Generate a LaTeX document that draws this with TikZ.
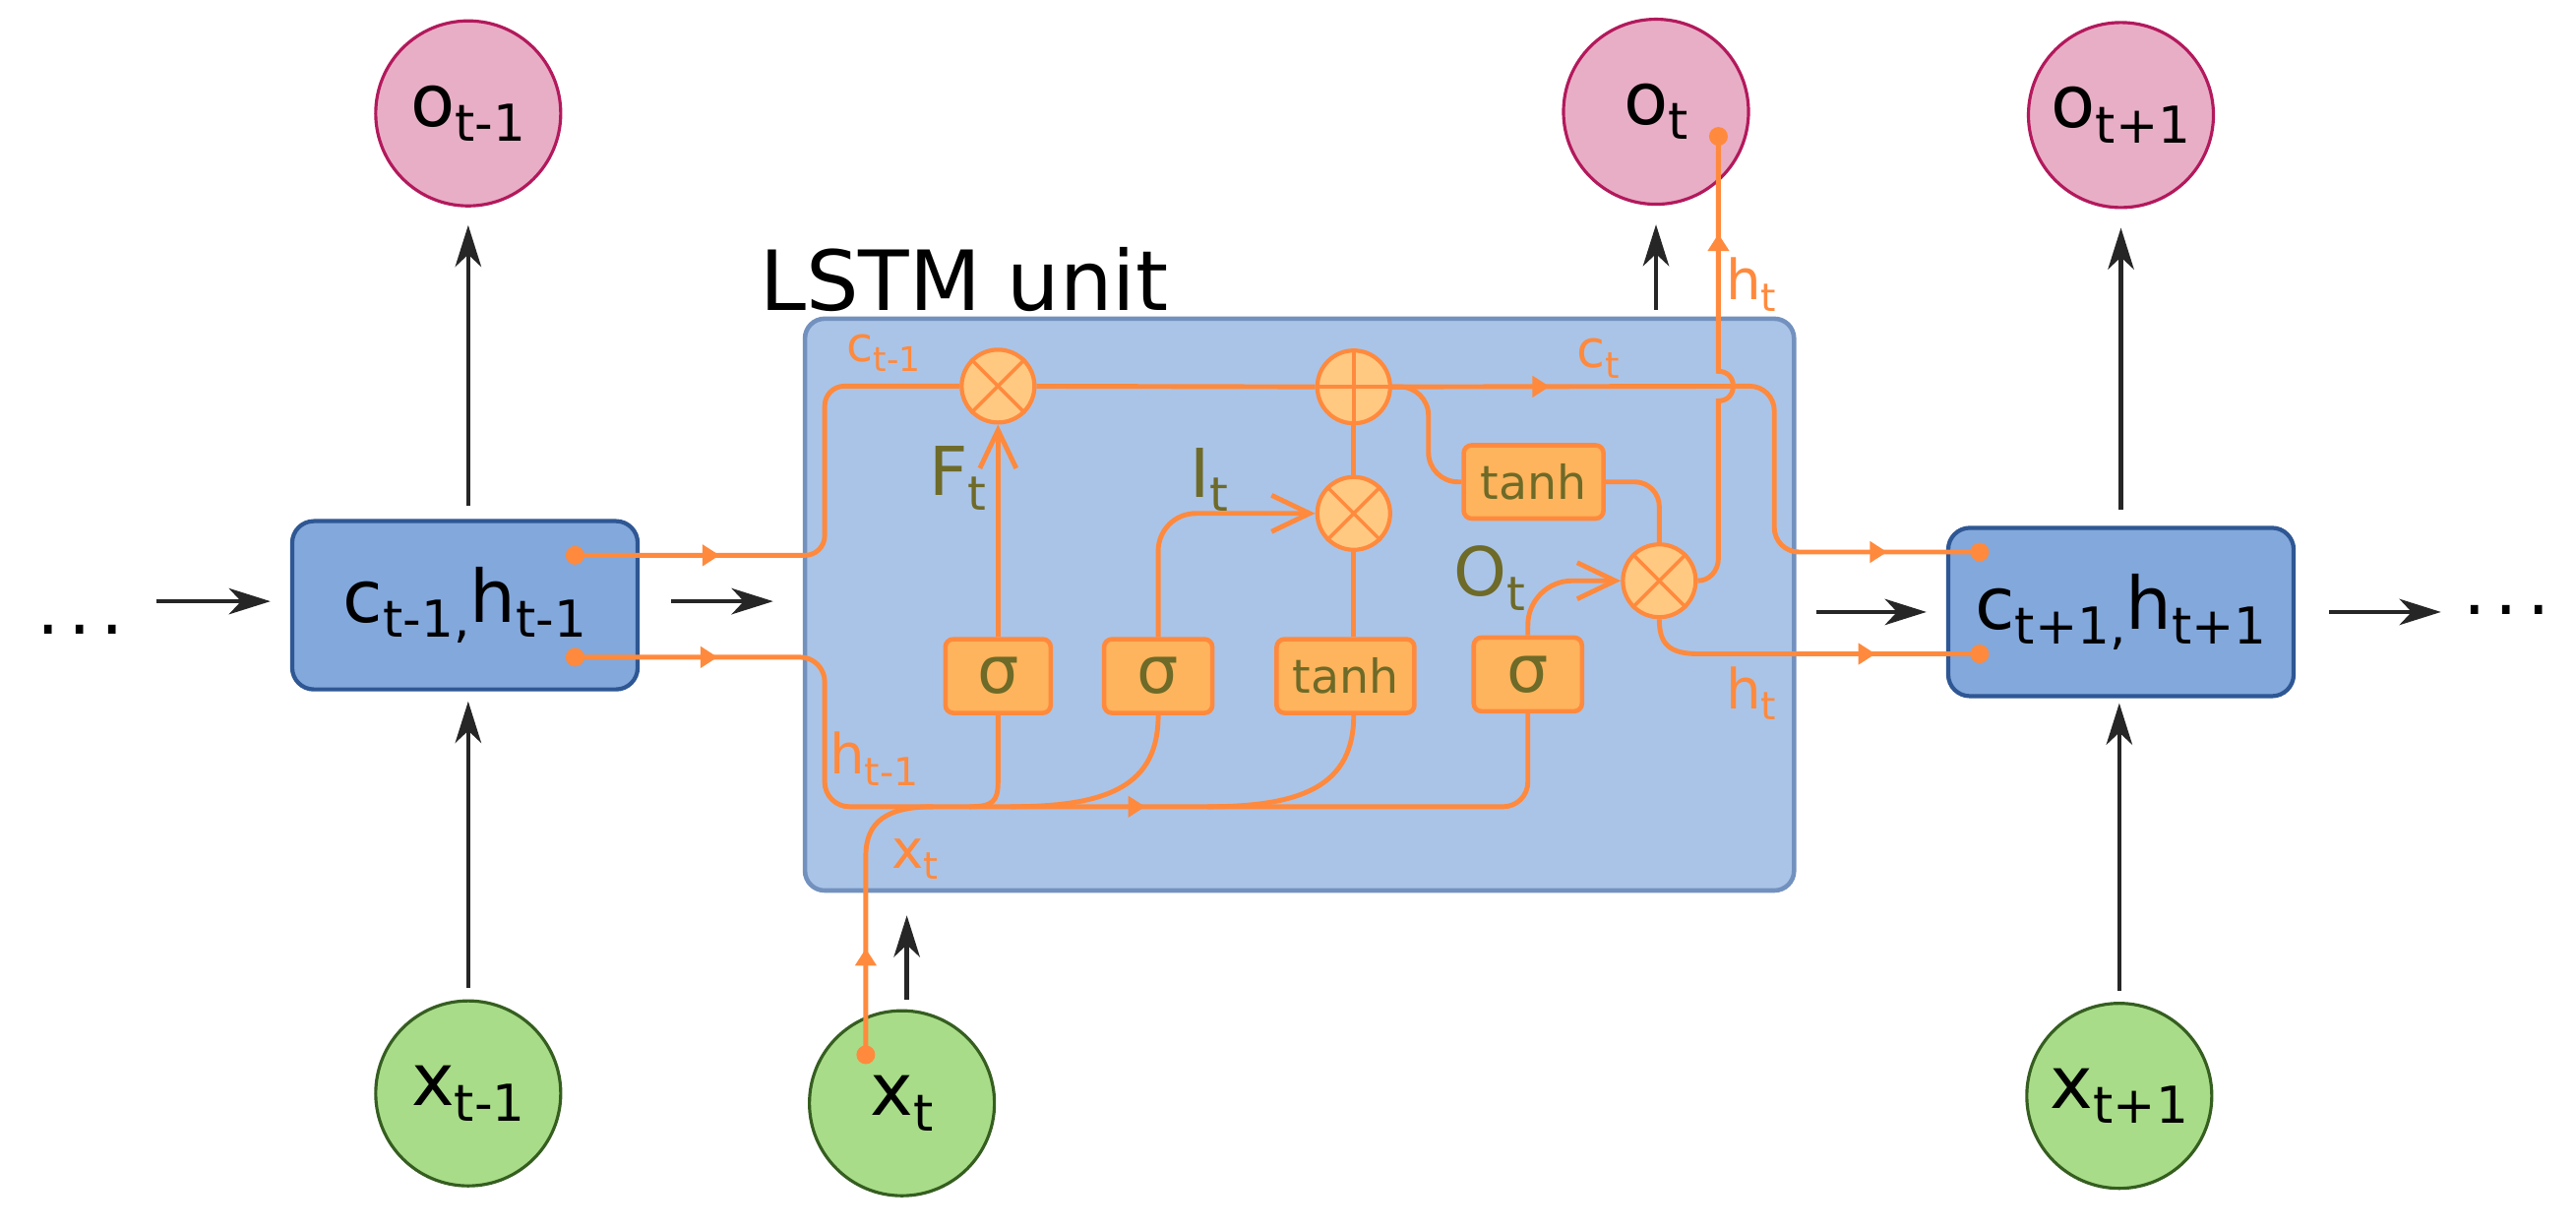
\documentclass[tikz,border=0pt]{standalone}
\usepackage{fontspec}
\setmainfont{DejaVu Sans}
\usetikzlibrary{arrows.meta,decorations.markings}
\definecolor{orng}{HTML}{FF8A3D}
\definecolor{gatef}{HTML}{FDB45C}
\definecolor{opf}{HTML}{FFC982}
\definecolor{olive}{HTML}{6E6A28}
\definecolor{lstmf}{HTML}{AAC4E8}
\definecolor{lstmb}{HTML}{7391BE}
\definecolor{hboxf}{HTML}{83A8DC}
\definecolor{hboxb}{HTML}{2E5794}
\definecolor{pinkf}{HTML}{E8AEC6}
\definecolor{pinkb}{HTML}{B3195C}
\definecolor{greenf}{HTML}{A8DC88}
\definecolor{greenb}{HTML}{355E20}
\newcommand\myfs[1]{\fontsize{#1}{#1}\selectfont}
\newcommand\sbs[1]{\raisebox{-0.21em}{\scalebox{0.7}{#1}}}
\begin{document}
\begin{tikzpicture}[x=0.016696cm, y=-0.016696cm,
 pinkc/.style={circle, draw=pinkb, fill=pinkf, line width=0.9pt, minimum size=1.88cm, inner sep=0pt, font=\myfs{21}},
 greenc/.style={circle, draw=greenb, fill=greenf, line width=0.9pt, minimum size=1.88cm, inner sep=0pt, font=\myfs{21}},
 hstate/.style={rectangle, rounded corners=0.22cm, draw=hboxb, fill=hboxf, line width=1.2pt, minimum width=3.51cm, minimum height=1.71cm, inner sep=0pt, font=\myfs{21}},
 lstmbox/.style={rectangle, rounded corners=0.2cm, draw=lstmb, fill=lstmf, line width=1.3pt, minimum width=10.05cm, minimum height=5.81cm, inner sep=0pt},
 gatebox/.style={rectangle, rounded corners=0.08cm, draw=orng, fill=gatef, line width=1.3pt, minimum height=0.75cm, inner sep=0pt, text=olive},
 opc/.style={circle, draw=orng, fill=opf, line width=1.2pt, minimum size=0.74cm, inner sep=0pt},
 oline/.style={draw=orng, line width=1.4pt},
 odot/.style={circle, fill=orng, inner sep=0pt, minimum size=0.19cm},
 barrow/.style={draw=black!85, line width=1.3pt, -{Stealth[length=12pt,width=7.5pt,inset=3.5pt]}},
 gatearr/.style={-{Straight Barb[length=11pt,width=10.5pt]}},
 olab/.style={text=orng, inner sep=0pt},
 glab/.style={text=olive, inner sep=0pt, font=\myfs{19.5}},
 midarr/.style={postaction={decorate}, decoration={markings, mark=at position #1 with {\arrow{Triangle[length=5pt,width=6pt]}}}},
 midrev/.style={postaction={decorate}, decoration={markings, mark=at position #1 with {\arrowreversed{Triangle[length=5pt,width=6pt]}}}},
 midtwo/.style 2 args={postaction={decorate}, decoration={markings, mark=at position #1 with {\arrow{Triangle[length=5pt,width=6pt]}}, mark=at position #2 with {\arrow{Triangle[length=5pt,width=6pt]}}}}
]
\useasboundingbox (0,0) rectangle (1568,747.5);

% main containers and state nodes
\node[lstmbox] (lstm) at (791,368) {};
\node[anchor=base west, inner sep=0pt, font=\myfs{24}] (title) at (462,189) {LSTM unit};
\node[pinkc] (om1) at (285,69) {o\sbs{t-1}};
\node[pinkc] (ot) at (1008,68) {o\sbs{t}};
\node[pinkc] (op1) at (1291,70) {o\sbs{t+1}};
\node[greenc] (xm1) at (285,665.5) {x\sbs{t-1}};
\node[greenc] (xt) at (549,671.5) {x\sbs{t}};
\node[greenc] (xp1) at (1290,667) {x\sbs{t+1}};
\node[hstate] (cm1) at (283,368.4) {c\sbs{t-1,}h\sbs{t-1}};
\node[hstate] (cp1) at (1291,372.5) {c\sbs{t+1,}h\sbs{t+1}};
\node[anchor=base west, inner sep=0pt, font=\myfs{21}] (ldots) at (22,386) {.\kern0.12em.\kern0.12em.};
\node[anchor=base west, inner sep=0pt, font=\myfs{21}] (rdots) at (1499,374) {.\kern0.12em.\kern0.12em.};
\coordinate (lin) at (95,366);

% black connectors
\draw[barrow, shorten >=0.2cm] (lin) -- (cm1.west |- lin);
\draw[barrow, shorten <=0.32cm, shorten >=0.3cm] (cm1.east |- lin) -- (lstm.west |- lin);
\draw[barrow, shorten <=0.13cm, shorten >=0.18cm] (om1.south |- cm1.north) -- (om1.south);
\draw[barrow, shorten <=0.12cm, shorten >=0.1cm] (xm1.north) -- (xm1.north |- cm1.south);
\draw[barrow, shorten <=0.07cm, shorten >=0.19cm] (ot.south |- lstm.north) -- (ot.south);
\draw[barrow, shorten <=0.1cm, shorten >=0.23cm] ([xshift=0.05cm]xt.north) -- ([xshift=0.05cm]xt.north |- lstm.south);
\draw[barrow, shorten <=0.2cm, shorten >=0.2cm] (lstm.east |- cp1) -- (cp1.west);
\draw[barrow, shorten <=0.16cm, shorten >=0.19cm] (op1.south |- cp1.north) -- (op1.south);
\draw[barrow, shorten <=0.11cm, shorten >=0.05cm] (xp1.north) -- (xp1.north |- cp1.south);
\draw[barrow, shorten <=0.34cm, shorten >=0.22cm] (cp1.east) -- (cp1.east -| rdots.west);

% gates and operators
\node[opc] (fx) at (607.5,235) {};
\node[opc] (plus) at (824,235.5) {};
\node[opc] (ix) at (824,312.5) {};
\node[opc] (ox) at (1010,353.5) {};
\node[gatebox, minimum width=1.07cm, font=\myfs{19}] (s1) at (607.5,411.5) {σ};
\node[gatebox, minimum width=1.1cm, font=\myfs{19}] (s2) at (705,411.5) {σ};
\node[gatebox, minimum width=1.4cm, font=\myfs{13.5}] (tanh1) at (819,411.5) {tanh};
\node[gatebox, minimum width=1.1cm, font=\myfs{19}] (s3) at (930,410.5) {σ};
\node[gatebox, minimum width=1.42cm, minimum height=0.745cm, font=\myfs{13.5}] (tanh2) at (933.5,293.3) {tanh};

% orange data lines
\coordinate (cdL) at (350,338);
\coordinate (hdL) at (350,400);
\coordinate (cdR) at (1205,336);
\coordinate (hdR) at (1205,398);
\coordinate (otd) at (1046,83);
\coordinate (xtd) at (527,642);

\draw[oline, rounded corners=0.2cm, midarr=1.47cm] (cdL) -- (502,338) -- (502,235) -- (fx);
\draw[oline] (fx) -- (plus);
\draw[oline, rounded corners=0.25cm, midtwo={1.6cm}{6.5cm}] (plus) -- (1080,235) -- (1080,336) -- (cdR);
\draw[oline, rounded corners=0.3cm] (plus.east) -- (869.5,235) -- (869.5,293.3) -- (tanh2);
\draw[oline, rounded corners=0.25cm] (tanh2.east) -- (tanh2.east -| ox.north) -- (ox.north);
\draw[oline] (ix) -- (plus);
\draw[oline] (tanh1.north -| ix) -- (ix);
\draw[oline, gatearr] (s1) -- (fx);
\draw[oline, gatearr, rounded corners=0.38cm] (s2.north) -- (s2.north |- ix) -- (ix);
\draw[oline, gatearr, rounded corners=0.45cm] (s3.north) -- (s3.north |- ox) -- (ox);
\draw[oline, midrev=0.99cm] (otd) -- (1046,226) .. controls (1058,226) and (1058,244) .. (1046,244) -- (1046,339.5) .. controls (1046,348) and (1040,353.5) .. (ox.east);
\draw[oline, midarr=2.42cm] (ox.south) .. controls (1010,392) and (1016,398) .. (1034,398) -- (hdR);
\draw[oline, rounded corners=0.25cm, midtwo={1.45cm}{7.1cm}] (hdL) -- (502,400) -- (502,491) -- (930,491) -- (s3.south);
\draw[oline] (s1.south) -- (607.5,476) .. controls (607.5,488) and (604,491) .. (590,491);
\draw[oline] (s2.south) .. controls (705,478) and (675,491) .. (615,491);
\draw[oline] (tanh1.south -| ix) .. controls (824,478) and (793,491) .. (735,491);
\draw[oline, midarr=1.08cm] (xtd) -- (527,521) .. controls (527,500) and (540,491) .. (568,491);

% operator symbols
\draw[orng, line width=1pt] (fx.north east) -- (fx.south west) (fx.north west) -- (fx.south east);
\draw[orng, line width=1pt] (ix.north east) -- (ix.south west) (ix.north west) -- (ix.south east);
\draw[orng, line width=1pt] (ox.north east) -- (ox.south west) (ox.north west) -- (ox.south east);
\draw[orng, line width=1pt] (plus.north) -- (plus.south) (plus.west) -- (plus.east);

% dots
\node[odot] (cdLn) at (cdL) {};
\node[odot] (hdLn) at (hdL) {};
\node[odot] (cdRn) at (cdR) {};
\node[odot] (hdRn) at (hdR) {};
\node[odot] (otdn) at (otd) {};
\node[odot] (xtdn) at (xtd) {};

% labels
\node[olab, font=\myfs{14}] (lc1) at (538,215) {c\sbs{t-1}};
\node[olab, font=\myfs{15}] (lct) at (973,218) {c\sbs{t}};
\node[olab, font=\myfs{16}] (lht1) at (1066,173) {h\sbs{t}};
\node[olab, font=\myfs{16}] (lht2) at (1066,422) {h\sbs{t}};
\node[olab, font=\myfs{16}] (lhm) at (532,462) {h\sbs{t-1}};
\node[olab, font=\myfs{15.5}] (lxt) at (557,523) {x\sbs{t}};
\node[glab] (lF) at (583,291) {F\sbs{t}};
\node[glab] (lI) at (736,292) {I\sbs{t}};
\node[glab] (lO) at (907,352) {O\sbs{t}};
\end{tikzpicture}
\end{document}
